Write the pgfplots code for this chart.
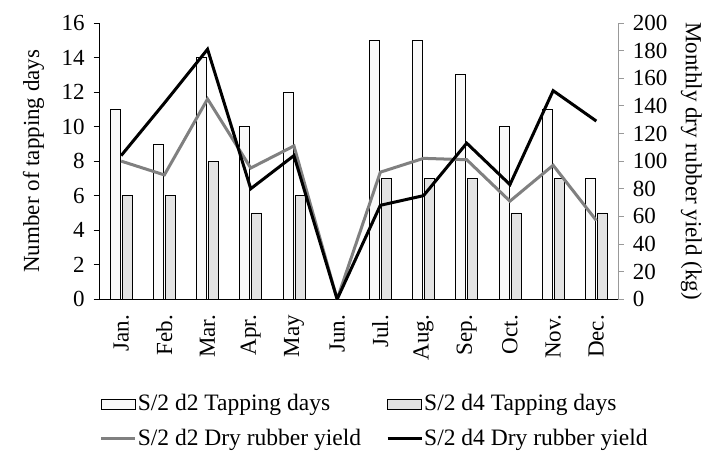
\documentclass[border=0pt]{standalone}
\usepackage{pgfplots}
\pgfplotsset{compat=1.18}
\usepackage{fontspec}
\setmainfont{Liberation Serif}
\begin{document}
\fontsize{23}{27}\selectfont
\begin{tikzpicture}
\pgfplotsset{
  common/.style={
    scale only axis, width=518pt, height=276pt,
    xmin=-0.5, xmax=11.5,
    /pgf/number format/assume math mode=true,
    tick label style={font=\fontsize{23}{27}\selectfont},
    label style={font=\fontsize{23}{27}\selectfont},
  }
}
\begin{axis}[common, name=ax,
  axis x line*=bottom, axis y line*=left,
  ymin=0, ymax=16, ytick={0,2,...,16},
  ylabel={Number of tapping days},
  ylabel style={yshift=2pt},
  yticklabel style={xshift=-1pt},
  xtick={0,...,11},
  xticklabels={Jan.,Feb.,Mar.,Apr.,May,Jun.,Jul.,Aug.,Sep.,Oct.,Nov.,Dec.},
  xticklabel style={rotate=90, anchor=east, xshift=-2pt},
  x tick style={draw=none},
  y tick style={black, line width=0.8pt},
  tick align=outside, major tick length=6pt,
  axis line style={black, line width=0.8pt},
]
\addplot[ybar, bar width=10pt, bar shift=-6pt, fill=gray!4, draw=black, line width=0.7pt]
  coordinates {(0,11)(1,9)(2,14)(3,10)(4,12)(5,0)(6,15)(7,15)(8,13)(9,10)(10,11)(11,7)};
\addplot[ybar, bar width=10pt, bar shift=6pt, fill=gray!22, draw=black, line width=0.7pt]
  coordinates {(0,6)(1,6)(2,8)(3,5)(4,6)(5,0)(6,7)(7,7)(8,7)(9,5)(10,7)(11,5)};
\end{axis}
\begin{axis}[common,
  axis x line=none, axis y line*=right,
  ymin=0, ymax=200, ytick={0,20,...,200},
  ylabel={Monthly dry rubber yield (kg)},
  ylabel style={rotate=180, yshift=-2pt},
  yticklabel style={xshift=1pt},
  y tick style={black!40, line width=0.8pt},
  tick align=outside, major tick length=6pt,
  axis line style={black!40, line width=0.8pt},
  legend columns=2,
  legend style={draw=none, fill=none, inner sep=0pt, at={(0,-0.34)}, anchor=north west,
    font=\fontsize{23.5}{27}\selectfont,
    /tikz/every even column/.append style={column sep=24pt},
    /tikz/every odd column/.append style={column sep=0pt},
    row sep=13pt, nodes={inner sep=1pt}},
  legend cell align=left,
]
\addlegendimage{legend image code/.code={\draw[fill=gray!4, draw=black, line width=0.7pt] (0pt,-5pt) rectangle (34pt,5pt);}}
\addlegendentry{S/2 d2 Tapping days}
\addlegendimage{legend image code/.code={\draw[fill=gray!22, draw=black, line width=0.7pt] (0pt,-5pt) rectangle (34pt,5pt);}}
\addlegendentry{S/2 d4 Tapping days}
\addplot[black!50, line width=3pt, mark=none,
  legend image code/.code={\draw[black!50, line width=3pt] (0pt,0pt) -- (34pt,0pt);}]
  coordinates {(0,100)(1,90)(2,145)(3,95)(4,111)(5,0)(6,92)(7,102)(8,101)(9,71)(10,97)(11,57)};
\addlegendentry{S/2 d2 Dry rubber yield}
\addplot[black, line width=3pt, mark=none,
  legend image code/.code={\draw[black, line width=3pt] (0pt,0pt) -- (34pt,0pt);}]
  coordinates {(0,104)(1,142)(2,181)(3,80)(4,104)(5,0)(6,68)(7,75)(8,113)(9,83)(10,151)(11,129)};
\addlegendentry{S/2 d4 Dry rubber yield}
\end{axis}
\pgfresetboundingbox
\path[use as bounding box] ([xshift=-99.5pt,yshift=-151pt]ax.south west) rectangle ([xshift=90pt,yshift=23pt]ax.north east);
\end{tikzpicture}
\end{document}
